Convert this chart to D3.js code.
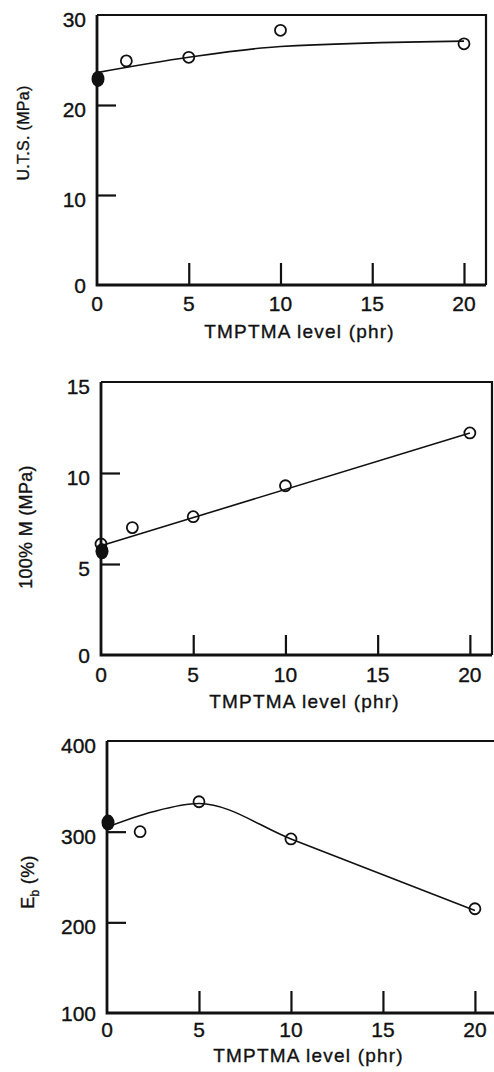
<!DOCTYPE html>
<html>
<head>
<meta charset="utf-8">
<script src="https://cdn.jsdelivr.net/npm/d3@7"></script>
<style>
  body { margin: 0; background: #fff; }
  svg { display: block; }
  text { font-family: "Liberation Sans", Arial, sans-serif; fill: #111; stroke: #111; stroke-width: 0.35px; }
</style>
</head>
<body>
<svg id="chart" width="494" height="1072"></svg>
<script>
// x values are TMPTMA level (phr)
var xTicks = [0, 5, 10, 15, 20];

// panel 1: U.T.S.
var utsOpenX = [1.6, 5, 10, 20],
    utsOpenY = [24.9, 25.3, 28.3, 26.8],
    utsFilledX = [0],
    utsFilledY = [22.9],
    utsFitX = [0, 5, 10, 20],
    utsFitY = [23.6, 25.3, 26.5, 27.1],
    utsTicks = [0, 10, 20, 30];

// panel 2: 100% modulus
var modOpenX = [0, 1.7, 5, 10, 20],
    modOpenY = [6.1, 7.0, 7.6, 9.3, 12.2],
    modFilledX = [0],
    modFilledY = [5.7],
    modFitX = [0, 20],
    modFitY = [6.0, 12.2],
    modTicks = [0, 5, 10, 15];

// panel 3: elongation at break
var ebOpenX = [1.8, 5, 10, 20],
    ebOpenY = [300, 333, 292, 215],
    ebFilledX = [0],
    ebFilledY = [310],
    ebFitX = [0, 2.5, 5, 10, 20],
    ebFitY = [305, 322, 331, 292, 213],
    ebTicks = [100, 200, 300, 400];

var svg = d3.select("#chart");

var panels = [
    {
        left: 97, right: 486, top: 15, bottom: 285,
        yDomain: [0, 30], yTicks: utsTicks, yInner: [10, 20],
        openX: utsOpenX, openY: utsOpenY, fillX: utsFilledX, fillY: utsFilledY,
        fitX: utsFitX, fitY: utsFitY, curve: d3.curveMonotoneX,
        ylabel: "U.T.S. (MPa)", ylabelX: 23, ylabelY: 133, ylabelSize: 16,
        tickLen: 22, xlabY: 311, titleY: 338
    },
    {
        left: 101, right: 492, top: 382, bottom: 655,
        yDomain: [0, 15], yTicks: modTicks, yInner: [5, 10],
        openX: modOpenX, openY: modOpenY, fillX: modFilledX, fillY: modFilledY,
        fitX: modFitX, fitY: modFitY, curve: d3.curveLinear,
        ylabel: "100% M (MPa)", ylabelX: 26, ylabelY: 527, ylabelSize: 18,
        tickLen: 20, xlabY: 682, titleY: 708
    },
    {
        left: 107, right: 497, top: 741, bottom: 1013,
        yDomain: [100, 400], yTicks: ebTicks, yInner: [200, 300],
        openX: ebOpenX, openY: ebOpenY, fillX: ebFilledX, fillY: ebFilledY,
        fitX: ebFitX, fitY: ebFitY, curve: d3.curveMonotoneX,
        ylabel: "E", sub: "b", ylabelTail: " (%)", ylabelX: 28, ylabelY: 882, ylabelSize: 18,
        tickLen: 22, xlabY: 1037, titleY: 1062
    }
];

panels.forEach(function(p) {
    var x = d3.scaleLinear().domain([0, 21.2]).range([p.left, p.right]),
        y = d3.scaleLinear().domain(p.yDomain).range([p.bottom, p.top]);
    var g = svg.append("g");

    // frame
    g.append("path")
        .attr("d", "M" + p.left + "," + p.top + "H" + p.right + "V" + p.bottom)
        .attr("fill", "none").attr("stroke", "#111").attr("stroke-width", 2.2);
    g.append("path")
        .attr("d", "M" + p.left + "," + p.top + "V" + p.bottom + "H" + p.right)
        .attr("fill", "none").attr("stroke", "#111").attr("stroke-width", 2.8);

    // inward ticks, left and bottom
    var yAxis = d3.axisRight(y).tickValues(p.yInner).tickSize(19).tickFormat("");
    g.append("g").attr("transform", "translate(" + p.left + ",0)").call(yAxis)
        .call(function(s) { s.select(".domain").remove(); })
        .selectAll("line").attr("stroke", "#111").attr("stroke-width", 2.2);

    var xAxis = d3.axisTop(x).tickValues([5, 10, 15, 20]).tickSize(p.tickLen).tickFormat("");
    g.append("g").attr("transform", "translate(0," + p.bottom + ")").call(xAxis)
        .call(function(s) { s.select(".domain").remove(); })
        .selectAll("line").attr("stroke", "#111").attr("stroke-width", 2.2);

    // tick labels
    g.selectAll(".ylab").data(p.yTicks).join("text")
        .attr("x", p.left - 11)
        .attr("y", function(d) { return y(d) + (d === p.yDomain[0] ? 8 : 12); })
        .attr("text-anchor", "end")
        .attr("font-size", 21)
        .text(function(d) { return d; });

    g.selectAll(".xlab").data(xTicks).join("text")
        .attr("x", function(d) { return x(d); })
        .attr("y", p.xlabY)
        .attr("text-anchor", "middle")
        .attr("font-size", 21)
        .text(function(d) { return d; });

    g.append("text")
        .attr("x", (p.left + Math.min(p.right, 494)) / 2 + 8)
        .attr("y", p.titleY)
        .attr("text-anchor", "middle")
        .attr("font-size", 19)
        .attr("letter-spacing", 1.2)
        .text("TMPTMA level (phr)");

    var yl = g.append("text")
        .attr("transform", "translate(" + p.ylabelX + "," + p.ylabelY + ") rotate(-90)")
        .attr("text-anchor", "middle")
        .attr("dy", "0.35em")
        .attr("font-size", p.ylabelSize)
        .attr("letter-spacing", 0.3);
    yl.append("tspan").text(p.ylabel);
    if (p.sub) {
        yl.append("tspan").attr("font-size", 12).attr("dy", 5).text(p.sub);
        yl.append("tspan").attr("dy", -5).text(p.ylabelTail);
    }

    // fitted curve
    var fit = d3.zip(p.fitX, p.fitY);
    g.append("path")
        .datum(fit)
        .attr("fill", "none")
        .attr("stroke", "#111")
        .attr("stroke-width", 1.6)
        .attr("d", d3.line().x(function(d) { return x(d[0]); }).y(function(d) { return y(d[1]); }).curve(p.curve));

    // filled control point
    g.selectAll(".filled").data(d3.zip(p.fillX, p.fillY)).join("ellipse")
        .attr("cx", function(d) { return x(d[0]) + 1; })
        .attr("cy", function(d) { return y(d[1]); })
        .attr("rx", 6.5).attr("ry", 8)
        .attr("fill", "#111");

    // open points
    g.selectAll(".open").data(d3.zip(p.openX, p.openY)).join("circle")
        .attr("cx", function(d) { return x(d[0]); })
        .attr("cy", function(d) { return y(d[1]); })
        .attr("r", 5.5)
        .attr("fill", "none")
        .attr("stroke", "#111")
        .attr("stroke-width", 1.8);
});
</script>
</body>
</html>
